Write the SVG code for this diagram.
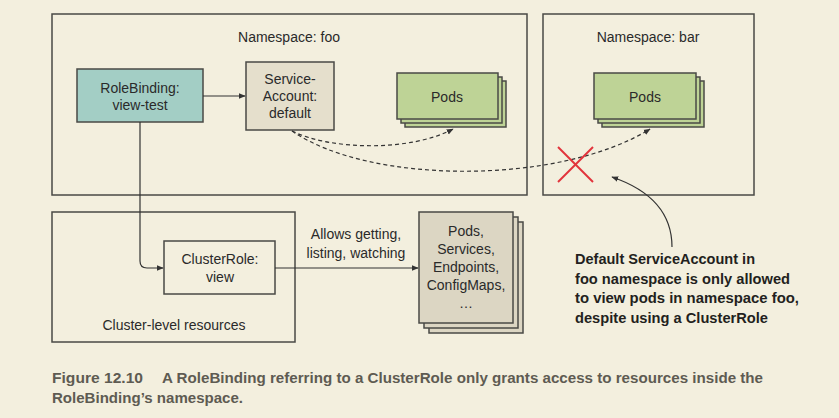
<svg xmlns="http://www.w3.org/2000/svg" width="839" height="418" viewBox="0 0 839 418">
<defs>
<marker id="arr" viewBox="0 0 10 10" refX="9" refY="5" markerWidth="7" markerHeight="7" orient="auto" markerUnits="userSpaceOnUse"><path d="M0,1 L10,5 L0,9 z" fill="#333"/></marker>
<style>
.box{fill:none;stroke:#4a4a46;stroke-width:1.5}
.lbl{font-family:"Liberation Sans",Arial,sans-serif;font-size:14px;fill:#2a2a2a;text-anchor:middle}
.node{stroke:#4a4a46;stroke-width:1.5}
.pod{fill:#bed396}
.res{fill:#dcd6c3}
.ln{fill:none;stroke:#333;stroke-width:1.2}
.dash{fill:none;stroke:#333;stroke-width:1.2;stroke-dasharray:4 3}
.note{font-family:"Liberation Sans",Arial,sans-serif;font-size:15.5px;font-weight:bold;fill:#231f20}
.cap{font-family:"Liberation Sans",Arial,sans-serif;font-size:15px;font-weight:bold;fill:#5e5b52}
</style>
</defs>
<rect width="839" height="418" fill="#f3efde"/>

<g id="ns-foo">
<rect class="box" x="52" y="14" width="475" height="181"/>
<text class="lbl" x="289" y="42">Namespace: foo</text>
</g>
<g id="ns-bar">
<rect class="box" x="543" y="14" width="211" height="181"/>
<text class="lbl" x="648" y="42">Namespace: bar</text>
</g>
<g id="cluster">
<rect class="box" x="52" y="212" width="243" height="130"/>
<text class="lbl" x="174" y="330">Cluster-level resources</text>
</g>

<g id="rolebinding">
<rect class="node" x="77" y="69" width="126" height="53" fill="#a3cec5"/>
<text class="lbl" x="140" y="93">RoleBinding:</text>
<text class="lbl" x="140" y="110">view-test</text>
</g>
<g id="serviceaccount">
<rect class="node" x="246" y="62" width="88" height="68" fill="#e5dfcc"/>
<text class="lbl" x="290" y="84">Service-</text>
<text class="lbl" x="290" y="101">Account:</text>
<text class="lbl" x="290" y="118">default</text>
</g>
<g id="pods-foo">
<rect class="node pod" x="405" y="81" width="101" height="46"/>
<rect class="node pod" x="401" y="77" width="101" height="46"/>
<rect class="node pod" x="397" y="73" width="101" height="46"/>
<text class="lbl" x="447" y="102">Pods</text>
</g>
<g id="pods-bar">
<rect class="node pod" x="602" y="81" width="102" height="46"/>
<rect class="node pod" x="598" y="77" width="102" height="46"/>
<rect class="node pod" x="594" y="73" width="102" height="46"/>
<text class="lbl" x="645" y="102">Pods</text>
</g>
<g id="clusterrole">
<rect class="node" x="164" y="241" width="111" height="53" fill="#f3efde"/>
<text class="lbl" x="220" y="264">ClusterRole:</text>
<text class="lbl" x="220" y="282">view</text>
</g>
<g id="resources">
<rect class="node res" x="429" y="222" width="94" height="111"/>
<rect class="node res" x="424" y="217" width="94" height="111"/>
<rect class="node res" x="419" y="212" width="94" height="111"/>
<text class="lbl" x="466" y="236">Pods,</text>
<text class="lbl" x="466" y="254">Services,</text>
<text class="lbl" x="466" y="272">Endpoints,</text>
<text class="lbl" x="466" y="290">ConfigMaps,</text>
<text class="lbl" x="466" y="308">…</text>
</g>

<g id="connectors">
<path class="ln" d="M203,96 L245,96" marker-end="url(#arr)"/>
<path class="ln" d="M140,122 L140,261 Q140,268 147,268 L163,268" marker-end="url(#arr)"/>
<path class="ln" d="M275,268 L418,268" marker-end="url(#arr)"/>
<text class="lbl" x="356" y="239">Allows getting,</text>
<text class="lbl" x="356" y="258">listing, watching</text>
<path class="dash" d="M292,131 C330,150 410,152 453,129" marker-end="url(#arr)"/>
<path class="dash" d="M292,131 C370,185 560,185 650,129" marker-end="url(#arr)"/>
<path class="ln" d="M672,247 C672,212 650,190 612,177" stroke-width="0.9" marker-end="url(#arr)"/>
</g>

<g id="deny-x" stroke="#e2333b" stroke-width="2">
<line x1="558" y1="147" x2="593" y2="182"/>
<line x1="593" y1="147" x2="558" y2="182"/>
</g>

<g id="note">
<text class="note" x="575" y="264" textLength="180" lengthAdjust="spacingAndGlyphs">Default ServiceAccount in</text>
<text class="note" x="575" y="284" textLength="215" lengthAdjust="spacingAndGlyphs">foo namespace is only allowed</text>
<text class="note" x="575" y="303" textLength="224" lengthAdjust="spacingAndGlyphs">to view pods in namespace foo,</text>
<text class="note" x="575" y="323" textLength="193" lengthAdjust="spacingAndGlyphs">despite using a ClusterRole</text>
</g>

<g id="caption">
<text class="cap" x="52" y="383" textLength="91" lengthAdjust="spacingAndGlyphs">Figure 12.10</text>
<text class="cap" x="162" y="383" textLength="601" lengthAdjust="spacingAndGlyphs">A RoleBinding referring to a ClusterRole only grants access to resources inside the</text>
<text class="cap" x="52" y="403" textLength="191" lengthAdjust="spacingAndGlyphs">RoleBinding’s namespace.</text>
</g>
</svg>
